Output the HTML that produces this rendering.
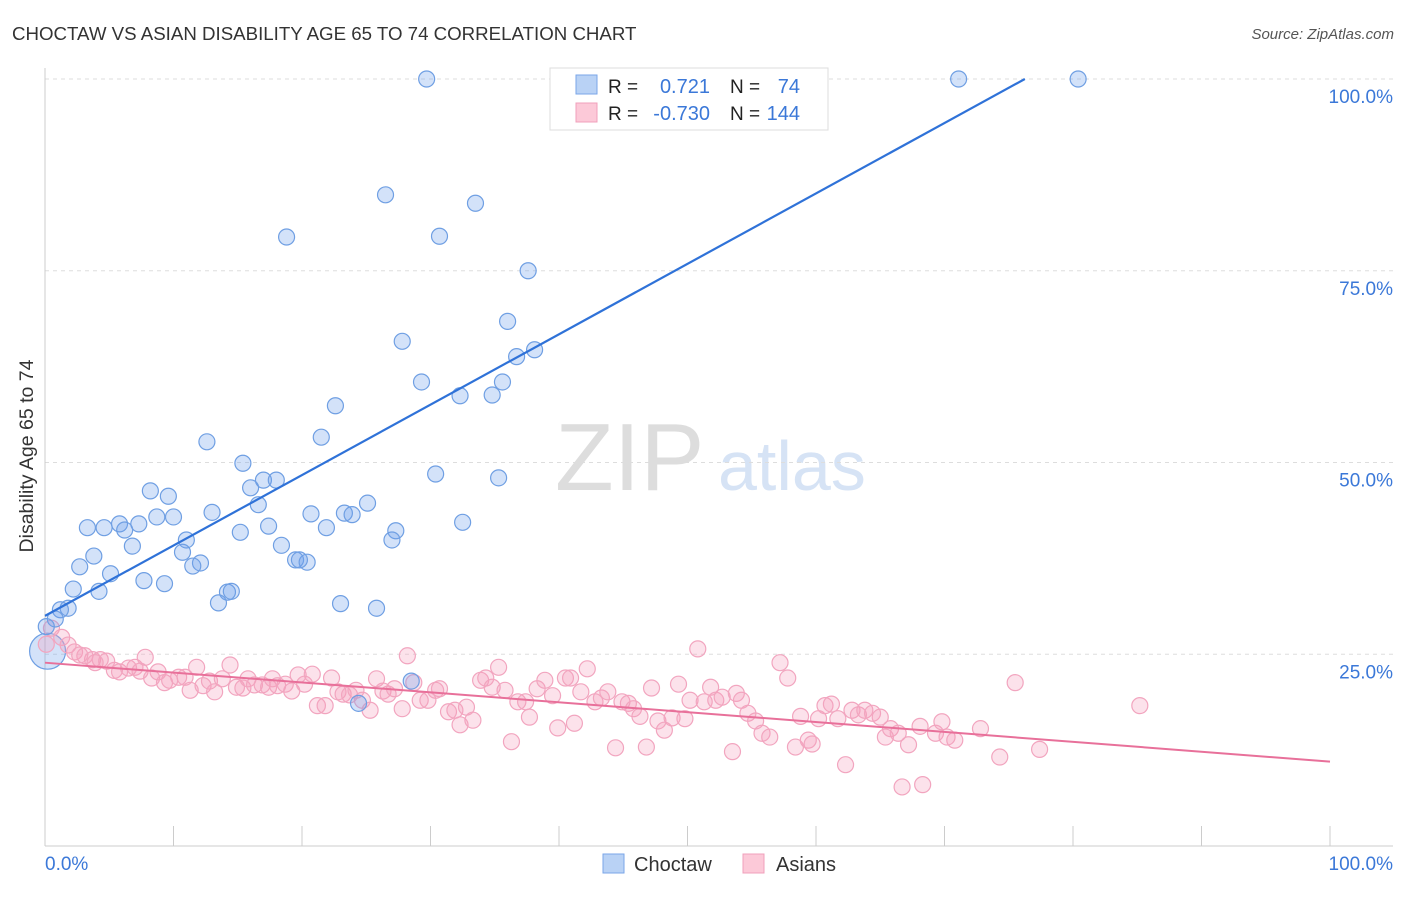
<!DOCTYPE html>
<html><head><meta charset="utf-8"><style>
body{margin:0;background:#fff;font-family:"Liberation Sans",sans-serif}
svg text{font-family:"Liberation Sans",sans-serif}
</style></head><body>
<svg id="chart" width="1406" height="892" xmlns="http://www.w3.org/2000/svg">
<text x="12" y="40" font-size="18.7" fill="#333">CHOCTAW VS ASIAN DISABILITY AGE 65 TO 74 CORRELATION CHART</text>
<text x="1394" y="39" font-size="15" fill="#555" font-style="italic" text-anchor="end">Source: ZipAtlas.com</text>
<text x="555" y="490" font-size="96" fill="#ddd" font-family="Liberation Serif,serif">ZIP</text>
<text x="718" y="490" font-size="70" fill="#d6e3f5">atlas</text>
<g id="grid"></g><g id="pts"></g><g id="lines"></g>
<text x="33" y="456" font-size="19.5" fill="#333" text-anchor="middle" transform="rotate(-90 33 456)">Disability Age 65 to 74</text>
<text x="45" y="870" font-size="19" fill="#3b78d8">0.0%</text>
<text x="1393" y="870" font-size="19" fill="#3b78d8" text-anchor="end">100.0%</text>
<g>
<rect x="550" y="68" width="278" height="62" fill="#fff" stroke="#ddd"/>
<rect x="576" y="75" width="21" height="19" fill="#b9d2f5" stroke="#7aa6e8"/>
<rect x="576" y="103" width="21" height="19" fill="#fcc9d8" stroke="#f0a0bb"/>
<text x="608" y="93" font-size="19" fill="#222">R =</text><text x="710" y="93" font-size="20" fill="#3b78d8" text-anchor="end">0.721</text>
<text x="730" y="93" font-size="19" fill="#222">N =</text><text x="800" y="93" font-size="20" fill="#3b78d8" text-anchor="end">74</text>
<text x="608" y="120" font-size="19" fill="#222">R =</text><text x="710" y="120" font-size="20" fill="#3b78d8" text-anchor="end">-0.730</text>
<text x="730" y="120" font-size="19" fill="#222">N =</text><text x="800" y="120" font-size="20" fill="#3b78d8" text-anchor="end">144</text>
</g>
<g>
<rect x="603" y="854" width="21" height="19" fill="#b9d2f5" stroke="#7aa6e8"/>
<text x="634" y="871" font-size="20" fill="#333">Choctaw</text>
<rect x="743" y="854" width="21" height="19" fill="#fcc9d8" stroke="#f0a0bb"/>
<text x="776" y="871" font-size="20" fill="#333">Asians</text>
</g>
</svg>
<script>
const yTicks=[25,50,75,100];
const bluePx=[[427,79],[959,79],[1078,79],[386,195],[475,203],[287,237],[440,236],[528,271],[508,321],[402,341],[516,357],[535,350],[421,382],[503,382],[460,396],[492,395],[336,406],[321,437],[207,442],[243,463],[435,474],[498,478],[150,491],[168,496],[263,480],[276,480],[251,488],[258,505],[368,503],[344,513],[352,515],[311,514],[212,512],[463,522],[88,528],[104,528],[119,524],[125,530],[139,524],[173,517],[157,517],[240,532],[268,526],[326,528],[396,531],[392,540],[186,540],[132,546],[282,545],[182,552],[94,556],[201,563],[193,566],[296,560],[307,562],[300,560],[80,567],[111,574],[144,581],[164,584],[73,589],[99,591],[227,592],[231,591],[218,603],[341,604],[376,608],[68,608],[61,610],[55,619],[358,703],[411,681],[46,627]];
const pinkPx=[[52,628],[62,637],[68,645],[75,652],[85,656],[92,660],[100,660],[107,661],[80,655],[95,663],[115,670],[120,672],[128,668],[135,667],[140,671],[145,657],[152,678],[158,672],[165,683],[170,680],[178,677],[185,677],[190,690],[197,667],[203,686],[210,681],[215,692],[222,679],[230,665],[237,687],[243,688],[248,679],[255,685],[262,685],[268,687],[272,679],[278,686],[285,684],[292,691],[298,675],[305,684],[312,674],[318,706],[325,706],[332,678],[338,692],[343,694],[350,695],[356,690],[362,700],[370,710],[377,679],[383,691],[388,694],[395,689],[402,709],[407,656],[414,683],[420,700],[428,700],[436,690],[440,689],[448,712],[455,710],[460,725],[466,707],[473,720],[480,680],[486,678],[492,687],[498,667],[505,690],[511,742],[518,702],[525,702],[530,717],[537,689],[545,680],[552,696],[558,728],[565,678],[570,678],[575,723],[581,692],[587,669],[595,702],[602,698],[608,692],[615,748],[622,702],[628,703],[634,709],[640,716],[646,747],[652,688],[658,721],[665,730],[672,718],[678,684],[685,719],[690,700],[698,649],[704,702],[710,687],[716,700],[722,697],[732,752],[736,693],[742,700],[748,713],[755,721],[762,733],[770,737],[780,663],[788,678],[795,747],[800,716],[808,740],[812,744],[818,719],[825,706],[832,704],[838,719],[845,765],[852,710],[858,715],[865,710],[872,713],[880,717],[885,737],[890,729],[898,733],[902,787],[908,745],[920,726],[923,785],[936,733],[942,722],[947,737],[955,740],[980,729],[1000,757],[1015,683],[1040,749],[1140,706],[46,644]];
const toX=p=>+((p-45)/12.85).toFixed(1), toY=p=>+((846-p)/7.67).toFixed(1);
const blueX=bluePx.map(d=>toX(d[0])), blueY=bluePx.map(d=>toY(d[1]));
const pinkX=pinkPx.map(d=>toX(d[0])), pinkY=pinkPx.map(d=>toY(d[1]));
const bigBlueX=[0.2], bigBlueY=[25.4];
const blueLine=[30.0,121.8], pinkLine=[23.9,11.0]; // y at x=0 and x=100
const sx=v=>45+v*12.85, sy=v=>846-v*7.67;
const NS="http://www.w3.org/2000/svg";
function mk(t,a,parent){const e=document.createElementNS(NS,t);for(const k in a)e.setAttribute(k,a[k]);parent.appendChild(e);return e;}
const grid=document.getElementById('grid');
yTicks.forEach(t=>{
 const l=mk('line',{x1:45,x2:1393,y1:sy(t),y2:sy(t),stroke:'#ddd','stroke-dasharray':'4,4'},grid);
 
 
 const tx=mk('text',{x:1393,y:sy(t)+24,'font-size':19,fill:'#3b78d8','text-anchor':'end'},grid);
 tx.textContent=t.toFixed(1)+'%';
 
 
});
const ax=mk('line',{x1:45,x2:1393,y1:846,y2:846,stroke:'#ccc'},grid);


const ay=mk('line',{x1:45,x2:45,y1:68,y2:846,stroke:'#ccc'},grid);


for(let i=0;i<=10;i++){const t=mk('line',{x1:sx(i*10),x2:sx(i*10),y1:826,y2:846,stroke:'#ccc'},grid);
 
 }
const pts=document.getElementById('pts');
bigBlueX.forEach((x,i)=>{const c=mk('circle',{cx:sx(x),cy:sy(bigBlueY[i]),r:18,fill:'rgba(110,160,235,0.3)',stroke:'#6f9fe3','stroke-width':1.2},pts);
 
 });
pinkX.forEach((x,i)=>{const c=mk('circle',{cx:sx(x),cy:sy(pinkY[i]),r:8,fill:'rgba(245,160,190,0.3)',stroke:'#f2a5bf','stroke-width':1.2},pts);
 
 });
blueX.forEach((x,i)=>{const c=mk('circle',{cx:sx(x),cy:sy(blueY[i]),r:8,fill:'rgba(110,160,235,0.3)',stroke:'#6f9fe3','stroke-width':1.2},pts);
 
 });
const lines=document.getElementById('lines');
const slope=(blueLine[1]-blueLine[0])/100;
const xEnd=Math.min(100,(100-blueLine[0])/slope);
const bl=mk('line',{x1:sx(0),y1:sy(blueLine[0]),x2:sx(xEnd),y2:sy(blueLine[0]+slope*xEnd),stroke:'#2f72d8','stroke-width':2.2},lines);


const pl=mk('line',{x1:sx(0),y1:sy(pinkLine[0]),x2:sx(100),y2:sy(pinkLine[1]),stroke:'#e8709a','stroke-width':2},lines);


</script>
</body></html>
